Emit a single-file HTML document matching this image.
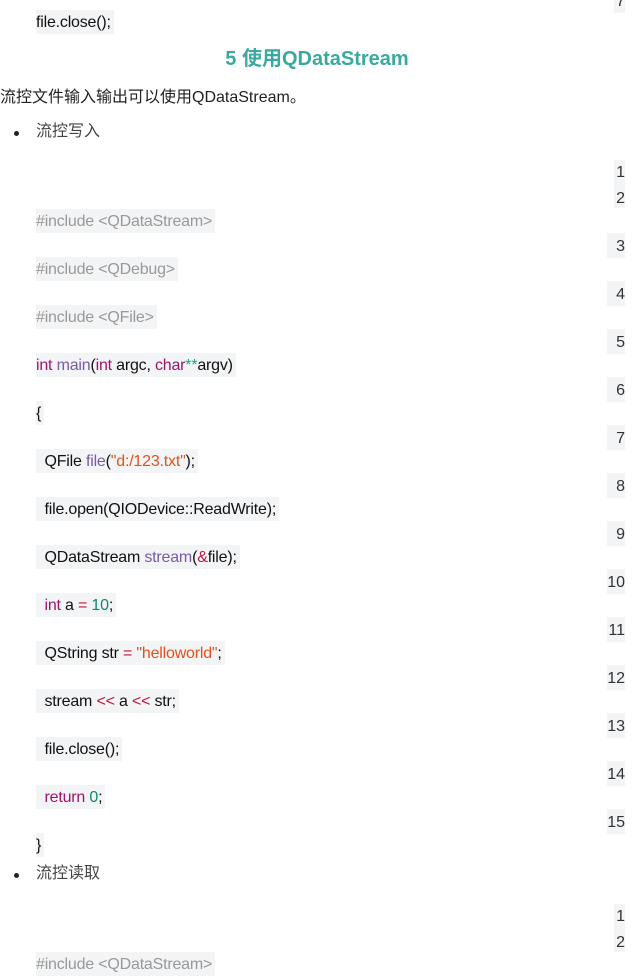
<!DOCTYPE html>
<html><head><meta charset="utf-8"><style>
body{margin:0;width:634px;height:960px;overflow:hidden;background:#fff;position:relative;font-family:"Liberation Sans","Noto Sans CJK SC",sans-serif;font-size:16px;color:#222}
.c{position:absolute;left:36px;height:24px;line-height:26px;background:#f3f4f5;padding:0 3px 0 0;white-space:pre;color:#111;letter-spacing:-0.2px}
.n{position:absolute;height:25px;line-height:28px;background:#f3f4f5;color:#333;font-size:16px;left:607px;width:18px;text-align:right;overflow:hidden}
.n1{left:614px;width:11px}
.t{position:absolute;white-space:nowrap;line-height:20px}
.k{color:#a0146e}.f{color:#7a5aa8}.s{color:#e0531a}.o{color:#20a090}.num{color:#0c8a6a}.r{color:#c0163c}
.b{position:absolute;left:14px;width:5px;height:5px;border-radius:50%;background:#222}
</style></head><body>
<div class="n n1" style="top:-12px">7</div>
<div class="c" style="top:10px">file.close();</div>
<div class="t" style="left:0;width:634px;text-align:center;top:49px;font-weight:bold;font-size:20px;color:#3aa9a0">5 使用QDataStream</div>
<div class="t" style="left:0;top:88px;font-size:16px">流控文件输入输出可以使用QDataStream。</div>
<div class="b" style="top:131px"></div><div class="t" style="left:36px;top:122px;color:#444">流控写入</div>
<div class="n n1" style="top:160px;height:48px;line-height:26px">1<br>2</div>
<div class="n" style="top:233px">3</div><div class="n" style="top:281px">4</div><div class="n" style="top:329px">5</div>
<div class="n" style="top:377px">6</div><div class="n" style="top:425px">7</div><div class="n" style="top:473px">8</div>
<div class="n" style="top:521px">9</div><div class="n" style="top:569px">10</div><div class="n" style="top:617px">11</div>
<div class="n" style="top:665px">12</div><div class="n" style="top:713px">13</div><div class="n" style="top:761px">14</div>
<div class="n" style="top:809px">15</div>
<div class="c" style="top:209px;color:#999">#include &lt;QDataStream&gt;</div>
<div class="c" style="top:257px;color:#999">#include &lt;QDebug&gt;</div>
<div class="c" style="top:305px;color:#999">#include &lt;QFile&gt;</div>
<div class="c" style="top:353px"><span class="k">int</span> <span class="f">main</span>(<span class="k">int</span> argc, <span class="k">char</span><span class="o">**</span>argv)</div>
<div class="c" style="top:401px">{</div>
<div class="c" style="top:449px">  QFile <span class="f">file</span>(<span class="s">"d:/123.txt"</span>);</div>
<div class="c" style="top:497px">  file.open(QIODevice::ReadWrite);</div>
<div class="c" style="top:545px">  QDataStream <span class="f">stream</span>(<span class="r">&amp;</span>file);</div>
<div class="c" style="top:593px">  <span class="k">int</span> a <span class="r">=</span> <span class="num">10</span>;</div>
<div class="c" style="top:641px">  QString str <span class="r">=</span> <span class="s">"helloworld"</span>;</div>
<div class="c" style="top:689px">  stream <span class="r">&lt;&lt;</span> a <span class="r">&lt;&lt;</span> str;</div>
<div class="c" style="top:737px">  file.close();</div>
<div class="c" style="top:785px">  <span class="k">return</span> <span class="num">0</span>;</div>
<div class="c" style="top:833px">}</div>
<div class="b" style="top:873px"></div><div class="t" style="left:36px;top:864px;color:#444">流控读取</div>
<div class="n n1" style="top:904px;height:48px;line-height:26px">1<br>2</div>
<div class="c" style="top:952px;color:#999">#include &lt;QDataStream&gt;</div>
</body></html>
